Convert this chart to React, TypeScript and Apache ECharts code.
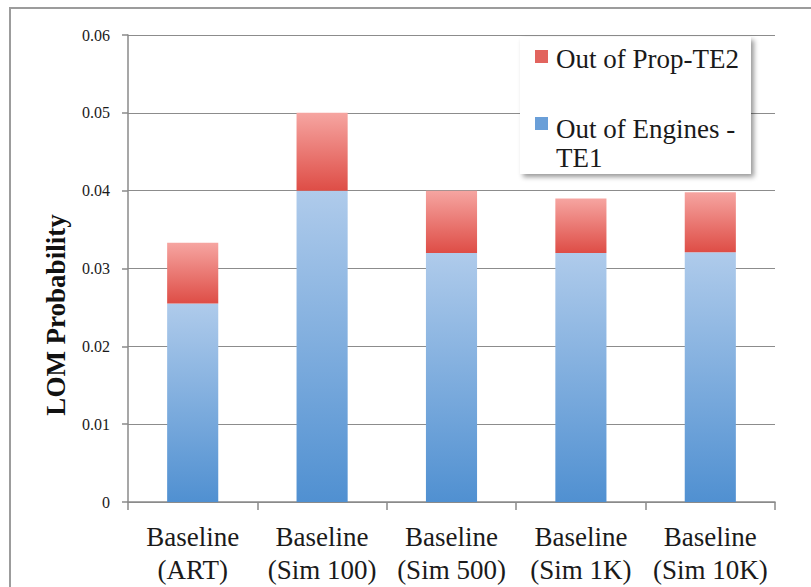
import React, { useEffect, useRef } from "react";
import * as echarts from "echarts";

const categories = [
  "Baseline\n(ART)",
  "Baseline\n(Sim 100)",
  "Baseline\n(Sim 500)",
  "Baseline\n(Sim 1K)",
  "Baseline\n(Sim 10K)",
];
const enginesTE1 = [0.0255, 0.04, 0.032, 0.032, 0.0321];
const propTE2 = [0.0078, 0.01, 0.008, 0.007, 0.0077];
const yTicks = [0, 0.01, 0.02, 0.03, 0.04, 0.05, 0.06];

const SERIF = "'Liberation Serif', 'Times New Roman', serif";

export default function App() {
  const ref = useRef<HTMLDivElement>(null);
  useEffect(() => {
    if (!ref.current) return;
    const chart = echarts.init(ref.current, null, { renderer: "svg" });
    const blueGrad = new echarts.graphic.LinearGradient(0, 0, 0, 1, [
      { offset: 0, color: "#afcbeb" },
      { offset: 1, color: "#5090d1" },
    ]);
    const redGrad = new echarts.graphic.LinearGradient(0, 0, 0, 1, [
      { offset: 0, color: "#f6a5a1" },
      { offset: 1, color: "#de4d46" },
    ]);
    chart.setOption({
      animation: false,
      backgroundColor: "#ffffff",
      textStyle: { fontFamily: SERIF },
      grid: { left: 128, right: 36, top: 35, bottom: 85, containLabel: false },
      legend: {
        orient: "vertical",
        left: 535,
        top: 30.5,
        padding: 0,
        itemGap: 28.25,
        itemWidth: 13,
        itemHeight: 56,
        z: 10,
        selectedMode: false,
        formatter: (name: string) =>
          name === "Out of Engines - TE1" ? "Out of Engines -\nTE1" : name,
        textStyle: {
          fontFamily: SERIF,
          fontSize: 27,
          color: "#1a1a1a",
          lineHeight: 28.5,
          padding: [0, 0, 0, 3],
        },
        data: [
          {
            name: "Out of Prop-TE2",
            icon: "path://M0,0h0.01M0,19.5h13v13h-13zM12.99,56h0.01",
            itemStyle: { color: "#e2645e" },
          },
          {
            name: "Out of Engines - TE1",
            icon: "path://M0,0h0.01M0,1.75h13v13h-13zM12.99,56h0.01",
            itemStyle: { color: "#6a9fd8" },
          },
        ],
      },
      xAxis: {
        type: "category",
        data: categories,
        boundaryGap: true,
        axisLine: { lineStyle: { color: "#8a8a8a", width: 1.5 } },
        axisTick: { show: true, length: 8, lineStyle: { color: "#8a8a8a", width: 1.5 } },
        axisLabel: {
          fontFamily: SERIF,
          fontSize: 27,
          lineHeight: 33,
          color: "#1a1a1a",
          margin: 18,
          interval: 0,
        },
      },
      yAxis: {
        type: "value",
        min: 0,
        max: 0.06,
        interval: 0.01,
        axisLine: { show: true, lineStyle: { color: "#8a8a8a", width: 1.5 } },
        axisTick: { show: true, inside: false, length: 6, lineStyle: { color: "#8a8a8a", width: 1.5 } },
        splitLine: { show: true, lineStyle: { color: "#8c8c8c", width: 1.2 } },
        axisLabel: {
          fontFamily: SERIF,
          fontSize: 16,
          color: "#1a1a1a",
          margin: 18,
          formatter: (v: number) => {
            const t = yTicks.find((x) => Math.abs(x - v) < 1e-9);
            return t === 0 ? "0" : (t ?? v).toFixed(2);
          },
        },
      },
      graphic: [
        {
          type: "rect",
          shape: { x: 10, y: 8, width: 820, height: 600 },
          style: { fill: "none", stroke: "#9c9c9c", lineWidth: 2 },
          z: 100,
          silent: true,
        },
        {
          type: "rect",
          shape: { x: 520, y: 37, width: 231, height: 137 },
          style: {
            fill: "#ffffff",
            shadowColor: "rgba(0,0,0,0.4)",
            shadowBlur: 5,
            shadowOffsetX: 3,
            shadowOffsetY: 3,
          },
          z: 5,
          silent: true,
        },
        {
          type: "text",
          x: 56,
          y: 315,
          rotation: Math.PI / 2,
          style: {
            text: "LOM Probability",
            font: `bold 27px ${SERIF}`,
            fill: "#111111",
            textAlign: "center",
            textVerticalAlign: "middle",
          },
        },
      ],
      series: [
        {
          name: "Out of Engines - TE1",
          type: "bar",
          stack: "total",
          barWidth: "39.5%",
          data: enginesTE1,
          itemStyle: { color: blueGrad },
        },
        {
          name: "Out of Prop-TE2",
          type: "bar",
          stack: "total",
          barWidth: "39.5%",
          data: propTE2,
          itemStyle: { color: redGrad },
        },
      ],
    });
    return () => chart.dispose();
  }, []);
  return (
    <div
      ref={ref}
      style={{ position: "fixed", left: 0, top: 0, width: 811, height: 587 }}
    />
  );
}
